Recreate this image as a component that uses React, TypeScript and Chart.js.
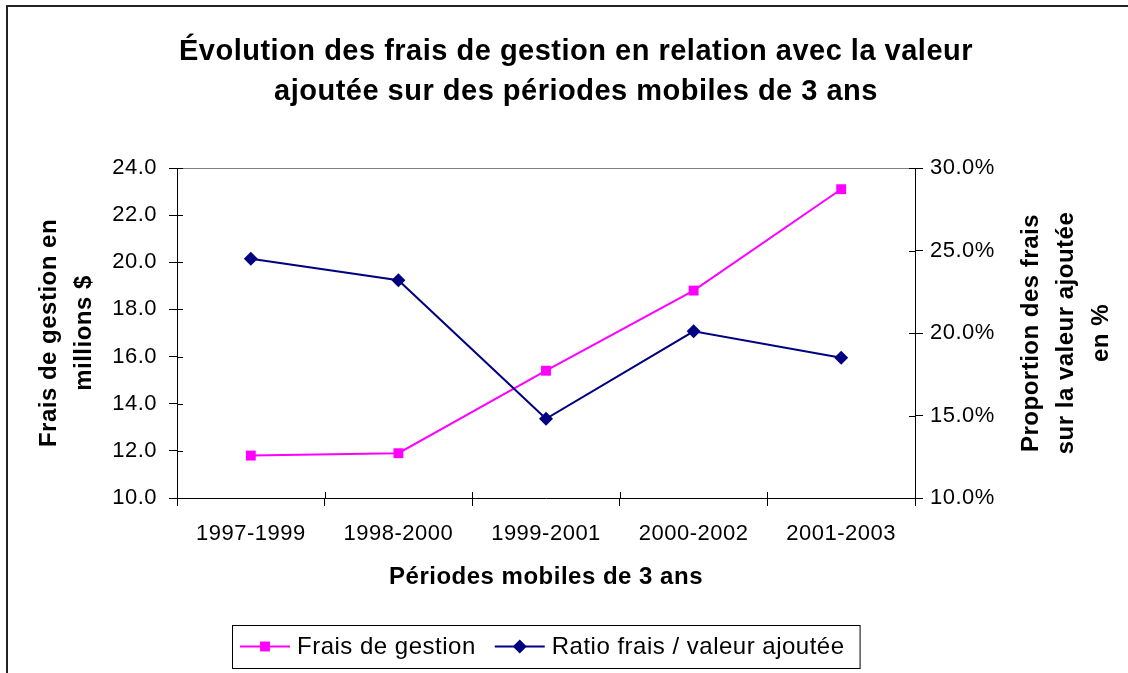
import React, { useEffect, useRef } from 'react';
import { Chart, registerables } from 'chart.js';

Chart.register(...registerables);

// ---------- Data ----------
const categories = ['1997-1999', '1998-2000', '1999-2001', '2000-2002', '2001-2003'];
const fraisGestion = [11.8, 11.9, 15.4, 18.8, 23.1]; // millions $
const ratioFrais = [24.5, 23.2, 14.8, 20.1, 18.5]; // %
const seriesNames = ['Frais de gestion', 'Ratio frais / valeur ajoutée'];
const seriesColors = ['#FF00FF', '#000080'];
const seriesMarkers = ['rect', 'rectRot'];

const leftAxisRange = { min: 10, max: 24, step: 2 };
const rightAxisRange = { min: 10, max: 30, step: 5 };

const chartTitle = [
  'Évolution des frais de gestion en relation avec la valeur',
  'ajoutée sur des périodes mobiles de 3 ans',
];
const xAxisTitle = 'Périodes mobiles de 3 ans';
const leftAxisTitle = ['Frais de gestion en', 'millions $'];
const rightAxisTitle = ['Proportion des frais', 'sur la valeur ajoutée', 'en %'];

const FONT = "'Liberation Sans', Arial, Helvetica, sans-serif";
const SPACING = '0.5px';

function drawMarker(ctx: CanvasRenderingContext2D, style: string, x: number, y: number, r: number) {
  ctx.beginPath();
  if (style === 'rectRot') {
    ctx.moveTo(x, y - r);
    ctx.lineTo(x + r, y);
    ctx.lineTo(x, y + r);
    ctx.lineTo(x - r, y);
    ctx.closePath();
  } else {
    const s = r * Math.SQRT1_2;
    ctx.rect(x - s, y - s, 2 * s, 2 * s);
  }
  ctx.fill();
}

const spacingPlugin = {
  id: 'spacing',
  beforeUpdate(c: any) { c.ctx.letterSpacing = SPACING; },
  beforeLayout(c: any) { c.ctx.letterSpacing = SPACING; },
  beforeDraw(c: any) { c.ctx.letterSpacing = SPACING; },
};

const framePlugin = {
  id: 'frame',
  beforeDraw(c: any) {
    const { ctx, width, height } = c;
    ctx.save();
    ctx.fillStyle = '#ffffff';
    ctx.fillRect(0, 0, width, height);
    ctx.strokeStyle = '#222222';
    ctx.lineWidth = 2;
    ctx.beginPath();
    ctx.moveTo(7, height);
    ctx.lineTo(7, 6);
    ctx.lineTo(width, 6);
    ctx.stroke();
    // main title
    ctx.fillStyle = '#000';
    ctx.font = `bold 29px ${FONT}`;
    ctx.textAlign = 'center';
    ctx.textBaseline = 'alphabetic';
    chartTitle.forEach((t, i) => ctx.fillText(t, 576, 60 + i * 40));
    ctx.restore();
  },
  beforeDatasetsDraw(c: any) {
    const { ctx, chartArea, scales } = c;
    ctx.save();
    // top border of plot area
    ctx.strokeStyle = '#808080';
    ctx.lineWidth = 1;
    ctx.beginPath();
    ctx.moveTo(chartArea.left, chartArea.top + 0.5);
    ctx.lineTo(chartArea.right, chartArea.top + 0.5);
    ctx.stroke();
    // inner halves of the cross tick marks
    ctx.strokeStyle = '#000';
    const inner = 6;
    const y = scales.y;
    const y1 = scales.y1;
    const x = scales.x;
    ctx.beginPath();
    y.ticks.forEach((_: any, i: number) => {
      const py = Math.round(y.getPixelForTick(i)) + 0.5;
      ctx.moveTo(chartArea.left, py);
      ctx.lineTo(chartArea.left + inner, py);
    });
    y1.ticks.forEach((_: any, i: number) => {
      const py = Math.round(y1.getPixelForTick(i)) + 0.5;
      ctx.moveTo(chartArea.right, py);
      ctx.lineTo(chartArea.right - inner, py);
    });
    for (let i = 0; i <= categories.length; i++) {
      const px = Math.round(x.getPixelForValue(i - 0.5)) + 0.5;
      ctx.moveTo(px, chartArea.bottom);
      ctx.lineTo(px, chartArea.bottom - inner);
    }
    ctx.stroke();
    ctx.restore();
  },
  afterDraw(c: any) {
    const { ctx, chartArea } = c;
    ctx.save();
    // right axis title (rotated, reading bottom to top)
    ctx.fillStyle = '#000';
    ctx.font = `bold 24px ${FONT}`;
    ctx.textAlign = 'center';
    ctx.textBaseline = 'middle';
    const cy = (chartArea.top + chartArea.bottom) / 2;
    rightAxisTitle.forEach((t, i) => {
      ctx.save();
      ctx.translate(chartArea.right + 116 + i * 35, cy);
      ctx.rotate(-Math.PI / 2);
      ctx.fillText(t, 0, 0);
      ctx.restore();
    });

    // legend
    ctx.font = `24px ${FONT}`;
    ctx.textAlign = 'left';
    ctx.textBaseline = 'middle';
    const boxLeft = 232;
    const boxTop = 625;
    const boxH = 43;
    const midY = boxTop + boxH / 2;
    let cx = boxLeft + 8;
    const sampleW = 50;
    c.data.datasets.forEach((ds: any, i: number) => {
      ctx.strokeStyle = ds.borderColor;
      ctx.fillStyle = ds.backgroundColor;
      ctx.lineWidth = 2;
      ctx.beginPath();
      ctx.moveTo(cx, midY);
      ctx.lineTo(cx + sampleW, midY);
      ctx.stroke();
      drawMarker(ctx, ds.pointStyle, cx + sampleW / 2, midY, ds.pointRadius);
      cx += sampleW + 7;
      ctx.fillStyle = '#000';
      ctx.fillText(ds.label, cx, midY + 1);
      cx += ctx.measureText(ds.label).width;
      if (i < c.data.datasets.length - 1) cx += 19;
    });
    const boxRight = Math.max(cx + 15, 856);
    ctx.strokeStyle = '#000';
    ctx.lineWidth = 1;
    ctx.strokeRect(boxLeft + 0.5, boxTop + 0.5, boxRight - boxLeft, boxH);
    ctx.restore();
  },
};

export default function App() {
  const ref = useRef<HTMLCanvasElement | null>(null);

  useEffect(() => {
    document.body.style.margin = '0';
    const canvas = ref.current;
    if (!canvas) return;
    const chart = new Chart(canvas, {
      type: 'line',
      data: {
        labels: categories,
        datasets: [
          {
            label: seriesNames[0],
            data: fraisGestion,
            yAxisID: 'y',
            borderColor: seriesColors[0],
            backgroundColor: seriesColors[0],
            borderWidth: 2,
            pointStyle: seriesMarkers[0],
            pointRadius: 7,
            pointBorderWidth: 0,
            tension: 0,
            order: 1,
          },
          {
            label: seriesNames[1],
            data: ratioFrais,
            yAxisID: 'y1',
            borderColor: seriesColors[1],
            backgroundColor: seriesColors[1],
            borderWidth: 2,
            pointStyle: seriesMarkers[1],
            pointRadius: 7,
            pointBorderWidth: 0,
            tension: 0,
            order: 0,
          },
        ],
      },
      options: {
        responsive: false,
        animation: false,
        devicePixelRatio: 1,
        layout: { padding: { left: 0, right: 0, top: 168, bottom: 75 } },
        plugins: {
          legend: { display: false },
          title: { display: false },
          tooltip: { enabled: false },
        },
        scales: {
          x: {
            type: 'category',
            offset: true,
            grid: { offset: true, drawOnChartArea: false, drawTicks: true, tickLength: 8, color: '#000' },
            border: { display: true, color: '#000', width: 1 },
            ticks: { color: '#000', font: { family: FONT, size: 22 }, padding: 15, maxRotation: 0 },
            title: {
              display: true,
              text: xAxisTitle,
              color: '#000',
              font: { family: FONT, size: 24, weight: 'bold' },
              padding: { top: 0, bottom: 6 },
            },
            afterFit: (s: any) => { s.height = 100; },
          },
          y: {
            type: 'linear',
            position: 'left',
            min: leftAxisRange.min,
            max: leftAxisRange.max,
            grid: { drawOnChartArea: false, drawTicks: true, tickLength: 8, color: '#000' },
            border: { display: true, color: '#000', width: 1 },
            ticks: {
              stepSize: leftAxisRange.step,
              color: '#000',
              font: { family: FONT, size: 22 },
              padding: 12,
              callback: (v: any) => Number(v).toFixed(1),
            },
            title: {
              display: true,
              text: leftAxisTitle,
              color: '#000',
              font: { family: FONT, size: 24, weight: 'bold', lineHeight: 1.46 },
              padding: { top: 32, bottom: 0 },
            },
            afterFit: (s: any) => { s.width = 177; },
          },
          y1: {
            type: 'linear',
            position: 'right',
            min: rightAxisRange.min,
            max: rightAxisRange.max,
            grid: { drawOnChartArea: false, drawTicks: true, tickLength: 8, color: '#000' },
            border: { display: true, color: '#000', width: 1 },
            ticks: {
              stepSize: rightAxisRange.step,
              color: '#000',
              font: { family: FONT, size: 22 },
              padding: 7,
              callback: (v: any) => Number(v).toFixed(1) + '%',
            },
            afterFit: (s: any) => { s.width = 213; },
          },
        },
      },
      plugins: [spacingPlugin, framePlugin],
    } as any);
    return () => chart.destroy();
  }, []);

  return (
    <div style={{ width: 1128, height: 673 }}>
      <canvas ref={ref} width={1128} height={673} style={{ display: 'block' }} />
    </div>
  );
}
